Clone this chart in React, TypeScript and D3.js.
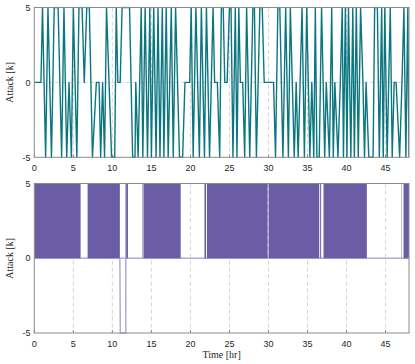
import React from 'react';
import * as d3 from 'd3';

// top panel: vertices of the attack signal (time in hr, value in k)
const attackTimes = [
  0, 0.85, 1.05, 1.45, 1.75, 2.2, 2.55, 3.05, 3.5, 3.8, 4.15, 4.45, 4.75, 5.0, 5.45, 5.72, 6.12, 6.4, 6.72, 7.05,
  7.45, 7.95, 8.3, 8.5, 8.75, 9.0, 9.25, 9.9, 10.3, 10.5, 10.7, 11.0, 11.25, 12.2, 12.6, 12.9, 13.0, 13.3, 13.7, 13.9,
  14.2, 14.5, 14.8, 15.0, 15.3, 15.6, 15.85, 16.1, 16.4, 16.6, 16.9, 17.15, 17.55, 17.8, 18.1, 18.6, 19.0, 19.3, 19.9, 20.1,
  20.35, 20.7, 21.15, 21.4, 21.8, 22.05, 22.45, 22.9, 23.1, 23.45, 23.75, 23.96, 24.2, 24.4, 24.7, 25.0, 25.2, 25.45, 25.75, 25.96,
  26.2, 26.4, 26.7, 26.95, 27.2, 27.6, 28.0, 28.2, 28.45, 28.9, 29.2, 29.45, 30.65, 30.9, 31.2, 31.45, 31.85, 32.2, 32.55, 32.8,
  33.05, 33.3, 33.55, 33.8, 34.05, 34.3, 34.6, 34.9, 35.3, 35.55, 35.8, 36.0, 36.2, 36.5, 36.8, 37.2, 37.4, 37.8, 38.1, 38.3,
  38.5, 38.9, 39.2, 39.45, 39.6, 39.85, 40.05, 40.25, 40.55, 40.8, 41.0, 41.25, 41.5, 41.8, 42.1, 42.3, 42.5, 42.85, 43.4, 43.6,
  43.95, 44.2, 44.5, 44.7, 44.9, 45.2, 45.6, 45.85, 46.1, 46.35, 46.8, 47.1, 47.35, 47.6, 47.85, 48.0,
];
const attackValues = [
  0, 0, 5, -5, 5, -5, 5, 5, -5, 5, -5, 0, -5, 5, -5, 5, 5, 0, 5, 5,
  -5, 0, 0, -5, 0, -5, 5, -5, -5, 5, 0, 0, 5, 5, -5, -5, 0, -5, 5, -5,
  5, -5, 5, -5, 5, -5, 5, -5, 5, -5, 5, -5, 5, -5, 5, -5, -5, 0, 0, 5,
  -5, 5, -5, 5, -5, 5, -5, 5, 0, 0, -5, 5, 5, 0, 0, 5, 5, -5, 5, -5,
  5, 0, 0, -5, 5, -5, 5, 5, -5, 5, 5, 0, 0, -5, 5, 5, -5, 5, -5, 5,
  0, -5, 0, -5, 0, 5, -5, 5, -5, 0, -5, 5, -5, -5, 5, -5, 0, -5, 5, -5,
  0, -5, 0, 5, -5, 5, -5, 5, -5, 5, -5, 5, -5, 5, 0, -5, 0, -5, -5, 5,
  5, -5, 5, -5, 5, -5, 5, -5, 0, 0, -5, 0, 5, -5, 5, -5,
];

// bottom panel: periods where the attack switches fast between 0 and 5
const activeStart = [0, 6.83, 11.78, 14.0, 21.8, 22.12, 30.02, 36.62, 37.05, 47.3];
const activeEnd = [5.93, 10.96, 12.0, 18.75, 22.0, 29.9, 36.5, 36.75, 42.6, 48];
// single strokes (lighter) in the bottom panel
const strokeTimes = [10.96, 11.02, 11.68, 11.72, 11.72];
const strokeValues = [0, -5, -5, -5, 5];
const lightBars = [[13.82, 14.0], [47.0, 47.1], [32.66, 32.72]];

const xTicks = [0, 5, 10, 15, 20, 25, 30, 35, 40, 45];
const yTicks = [-5, 0, 5];

const W = 415;
const H = 364;
const left = 34.3;
const right = 409;
const tickFont = '"Liberation Sans", Arial, sans-serif';
const labelFont = '"Liberation Serif", "DejaVu Serif", serif';
const teal = '#0c7680';
const purple = '#6b5da5';
const lavender = '#b3aad6';
const boxColor = '#8a8a8a';

const x = d3.scaleLinear().domain([0, 48]).range([left, right]);

function Axes({ y, top, bottom, showXLabel }: any) {
  return (
    <g>
      {xTicks.filter(t => t > 0).map(t => (
        <line key={'g' + t} x1={x(t)} x2={x(t)} y1={top} y2={bottom} stroke="#d4d4d4" strokeWidth={1} strokeDasharray="4,3" />
      ))}
      <line x1={left} x2={right} y1={y(0)} y2={y(0)} stroke="#d4d4d4" strokeWidth={1} strokeDasharray="4,3" />
      {xTicks.map(t => (
        <g key={'x' + t}>
          <line x1={x(t)} x2={x(t)} y1={bottom} y2={bottom - 3} stroke={boxColor} />
          <text x={x(t)} y={bottom + 14} textAnchor="middle" fontSize={9} fontFamily={tickFont} fill="#262626">{t}</text>
        </g>
      ))}
      {yTicks.map(t => (
        <text key={'y' + t} x={30.5} y={y(t) + 3.2} textAnchor="end" fontSize={9} fontFamily={tickFont} fill="#262626">{t}</text>
      ))}
      <text transform={`translate(13,${(top + bottom) / 2}) rotate(-90)`} textAnchor="middle" fontSize={10} fontFamily={labelFont} fill="#262626">Attack [k]</text>
      {showXLabel && (
        <text x={(left + right) / 2} y={358} textAnchor="middle" fontSize={10} fontFamily={labelFont} fill="#262626">Time [hr]</text>
      )}
    </g>
  );
}

export default function App() {
  const yTop = d3.scaleLinear().domain([-5, 5]).range([157.3, 7.5]);
  const yBot = d3.scaleLinear().domain([-5, 5]).range([333, 183.5]);

  const topLine = d3.line<number>()
    .x((_, i) => x(attackTimes[i]))
    .y(v => yTop(v))(attackValues) || '';

  const strokeLine = d3.line<number>()
    .x((_, i) => x(strokeTimes[i]))
    .y(v => yBot(v))(strokeValues) || '';

  return (
    <svg width={W} height={H} style={{ position: 'absolute', left: 0, top: 0, background: '#fff' }}>
      <defs>
        <clipPath id="clipTop"><rect x={left} y={6.5} width={right - left} height={152} /></clipPath>
        <clipPath id="clipBot"><rect x={left} y={182.5} width={right - left} height={152} /></clipPath>
      </defs>

      {/* top panel */}
      <rect x={left} y={7.5} width={right - left} height={157.3 - 7.5} fill="#fff" />
      <Axes y={yTop} top={7.5} bottom={157.3} showXLabel={false} />
      <path d={topLine} fill="none" stroke={teal} strokeWidth={1.4} strokeLinejoin="round" clipPath="url(#clipTop)" />
      <rect x={left} y={7.5} width={right - left} height={157.3 - 7.5} fill="none" stroke={boxColor} strokeWidth={1} />

      {/* bottom panel */}
      <rect x={left} y={183.5} width={right - left} height={333 - 183.5} fill="#fff" />
      <Axes y={yBot} top={183.5} bottom={333} showXLabel={true} />
      <g clipPath="url(#clipBot)">
        <line x1={left} x2={right} y1={yBot(0)} y2={yBot(0)} stroke={lavender} strokeWidth={1.5} />
        <path d={strokeLine} fill="none" stroke={lavender} strokeWidth={1.5} />
        {lightBars.map((b, i) => (
          <rect key={'l' + i} x={x(b[0])} y={yBot(5)} width={x(b[1]) - x(b[0])} height={yBot(0) - yBot(5)} fill={lavender} />
        ))}
        {activeStart.map((s, i) => (
          <rect key={'a' + i} x={x(s)} y={yBot(5)} width={x(activeEnd[i]) - x(s)} height={yBot(0) - yBot(5)} fill={purple} />
        ))}
      </g>
      <rect x={left} y={183.5} width={right - left} height={333 - 183.5} fill="none" stroke={boxColor} strokeWidth={1} />
    </svg>
  );
}
